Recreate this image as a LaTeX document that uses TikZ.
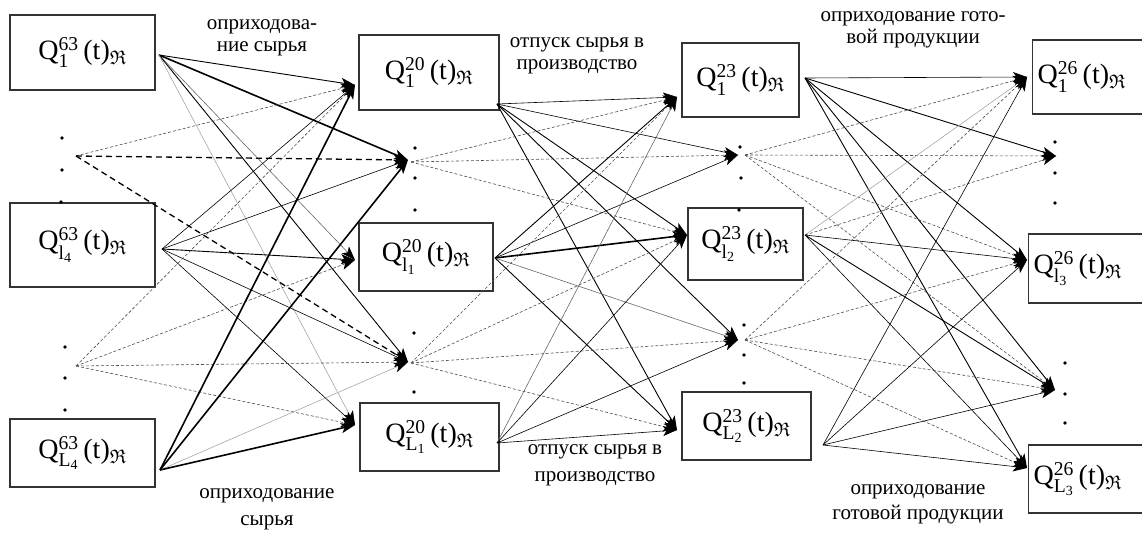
\documentclass[tikz,border=0pt]{standalone}
\usepackage{amsmath,amssymb}
\usepackage{fontspec}
\setmainfont{Liberation Serif}
\usetikzlibrary{arrows.meta}
\newcommand{\Qq}[2]{Q$^{\text{#1}}_{#2}$\,(t)$_{\mathfrak{R}}$}
\tikzset{
  box/.style={draw=black!80, line width=1.4pt, inner sep=0pt, font=\fontsize{28}{30}\selectfont},
  dbox/.style={box, anchor=west, text width=122pt, align=left, inner xsep=5pt},
  lbl/.style={align=center, inner sep=0pt, font=\fontsize{21}{22}\selectfont},
  dot/.style={circle, fill=black, inner sep=0pt, minimum size=3.6pt},
  ar/.style={-{Stealth[length=14pt,width=10pt,inset=3.5pt,black]}},
  thn/.style={ar, black, line width=0.6pt},
  nrm/.style={ar, black, line width=0.9pt},
  thk/.style={ar, black, line width=1.6pt},
  gry/.style={ar, black!60, line width=0.6pt},
  lgry/.style={ar, black!35, line width=0.6pt},
  dsh/.style={ar, black!70, line width=0.6pt, dash pattern=on 3pt off 2pt},
  hdsh/.style={ar, black, line width=1.3pt, dash pattern=on 6pt off 4pt},
}
\begin{document}
\begin{tikzpicture}[x=1pt,y=-1pt]
\useasboundingbox (0,0) rectangle (1142,534);
% boxes
\node[box, minimum width=145pt, minimum height=75pt] (a1) at (82.5,52.5) {\Qq{63}{\text{1}}};
\node[box, minimum width=145pt, minimum height=84pt] (a2) at (82.5,245) {\Qq{63}{\text{l}_{\text{4}}}};
\node[box, minimum width=145pt, minimum height=68pt] (a3) at (82.5,453) {\Qq{63}{\text{L}_{\text{4}}}};
\node[box, minimum width=140pt, minimum height=75pt] (b1) at (429,72.5) {\Qq{20}{\text{1}}};
\node[box, minimum width=134pt, minimum height=68pt] (b2) at (426,257) {\Qq{20}{\text{l}_{\text{1}}}};
\node[box, minimum width=139pt, minimum height=68pt] (b3) at (429.5,437) {\Qq{20}{\text{L}_{\text{1}}}};
\node[box, minimum width=117pt, minimum height=74pt] (c1) at (740.5,80) {\Qq{23}{\text{1}}};
\node[box, minimum width=115pt, minimum height=72pt] (c2) at (745.5,244) {\Qq{23}{\text{l}_{\text{2}}}};
\node[box, minimum width=129pt, minimum height=68pt] (c3) at (746.5,426) {\Qq{23}{\text{L}_{\text{2}}}};
\node[dbox, minimum height=74pt] (d1) at (1032,77) {\Qq{26}{\text{1}}};
\node[dbox, minimum height=69pt] (d2) at (1028,268.5) {\Qq{26}{\text{l}_{\text{3}}}};
\node[dbox, minimum height=68pt] (d3) at (1028,479) {\Qq{26}{\text{L}_{\text{3}}}};
% labels
\node[lbl] (l1) at (262,38) {оприходова-\\ние сырья};
\node[lbl] (l2) at (577,56) {отпуск сырья в\\производство};
\node[lbl, font=\fontsize{21}{27}\selectfont] (l3) at (267,509) {оприходование\\сырья};
\node[lbl, font=\fontsize{21}{27}\selectfont] (l4) at (595,465) {отпуск сырья в\\производство};
\node[lbl] (l5) at (913,30) {оприходование гото-\\вой продукции};
\node[lbl, font=\fontsize{21}{25}\selectfont] (l6) at (918,504) {оприходование\\готовой продукции};
% dots
\node[dot] (p1) at (62,138) {}; \node[dot] (p2) at (62,170) {}; \node[dot] (p3) at (61,202) {};
\node[dot] (p4) at (65,347) {}; \node[dot] (p5) at (65,378) {}; \node[dot] (p6) at (65,410) {};
\node[dot] (p7) at (415,148) {}; \node[dot] (p8) at (415,178) {}; \node[dot] (p9) at (415,210) {};
\node[dot] (p10) at (414,333) {}; \node[dot] (p11) at (414,392) {};
\node[dot] (p12) at (740,147) {}; \node[dot] (p13) at (741,178) {}; \node[dot] (p14) at (739,210) {};
\node[dot] (p15) at (744,325) {}; \node[dot] (p16) at (744,355) {}; \node[dot] (p17) at (744,383) {};
\node[dot] (p18) at (1055,142) {}; \node[dot] (p19) at (1055,173) {}; \node[dot] (p20) at (1055,203) {};
\node[dot] (p21) at (1065,363) {}; \node[dot] (p22) at (1065,394) {}; \node[dot] (p23) at (1065,423) {};
% connection points
\coordinate (s1a) at (159,55); \coordinate (h1a) at (76,156); \coordinate (s1b) at (162,249);
\coordinate (h1b) at (76,366); \coordinate (s1c) at (160,470);
\coordinate (t2a) at (355,85); \coordinate (t2h) at (408,160); \coordinate (t2b) at (355,260);
\coordinate (t2g) at (408,362); \coordinate (t2c) at (355,425);
\coordinate (s2a) at (497,104); \coordinate (h2a) at (411,162); \coordinate (s2b) at (495,258);
\coordinate (h2b) at (411,363); \coordinate (s2c) at (497,443);
\coordinate (t3a) at (677,97); \coordinate (t3h) at (738,155); \coordinate (t3b) at (687,235);
\coordinate (t3g) at (738,340); \coordinate (t3c) at (677,430);
\coordinate (s3a) at (805,78); \coordinate (h3a) at (745,155); \coordinate (s3b) at (805,235);
\coordinate (h3b) at (745,340); \coordinate (s3c) at (823,445);
\coordinate (t4a) at (1027,77); \coordinate (t4h) at (1056,156); \coordinate (t4b) at (1027,260);
\coordinate (t4g) at (1055,390); \coordinate (t4c) at (1027,468);
% stage 1
\draw[nrm] (s1a) -- (t2a); \draw[thk] (s1a) -- (t2h); \draw[gry] (s1a) -- (t2b);
\draw[nrm] (s1a) -- (t2g); \draw[lgry] (s1a) -- (t2c);
\draw[dsh] (h1a) -- (t2a); \draw[hdsh] (h1a) -- (t2h); \draw[hdsh] (h1a) -- (t2g);
\draw[thn] (s1b) -- (t2a); \draw[thn] (s1b) -- (t2h); \draw[nrm] (s1b) -- (t2b);
\draw[thn] (s1b) -- (t2g); \draw[thn] (s1b) -- (t2c);
\draw[dsh] (h1b) -- (t2a); \draw[dsh] (h1b) -- (t2b); \draw[dsh] (h1b) -- (t2g); \draw[dsh] (h1b) -- (t2c);
\draw[thk] (s1c) -- (t2a); \draw[thk] (s1c) -- (t2h); \draw[lgry] (s1c) -- (t2g); \draw[thk] (s1c) -- (t2c);
% stage 2
\draw[thn] (s2a) -- (t3a); \draw[thn] (s2a) -- (t3h); \draw[nrm] (s2a) -- (t3b);
\draw[nrm] (s2a) -- (t3g); \draw[nrm] (s2a) -- (t3c);
\draw[dsh] (h2a) -- (t3a); \draw[dsh] (h2a) -- (t3h); \draw[dsh] (h2a) -- (t3b);
\draw[nrm] (s2b) -- (t3a); \draw[thn] (s2b) -- (t3h); \draw[thk] (s2b) -- (t3b);
\draw[gry] (s2b) -- (t3g); \draw[nrm] (s2b) -- (t3c);
\draw[dsh] (h2b) -- (t3a); \draw[dsh] (h2b) -- (t3b); \draw[dsh] (h2b) -- (t3g); \draw[dsh] (h2b) -- (t3c);
\draw[gry] (s2c) -- (t3a); \draw[thn] (s2c) -- (t3b); \draw[thn] (s2c) -- (t3g); \draw[thn] (s2c) -- (t3c);
% stage 3
\draw[thn] (s3a) -- (t4a); \draw[nrm] (s3a) -- (t4h); \draw[nrm] (s3a) -- (t4b);
\draw[nrm] (s3a) -- (t4g); \draw[nrm] (s3a) -- (t4c);
\draw[dsh] (h3a) -- (t4a); \draw[dsh] (h3a) -- (t4h); \draw[dsh] (h3a) -- (t4b); \draw[dsh] (h3a) -- (t4g);
\draw[lgry] (s3b) -- (t4a); \draw[dsh] (s3b) -- (t4h); \draw[thn] (s3b) -- (t4b);
\draw[nrm] (s3b) -- (t4g); \draw[thn] (s3b) -- (t4c);
\draw[dsh] (h3b) -- (t4a); \draw[dsh] (h3b) -- (t4b); \draw[dsh] (h3b) -- (t4g); \draw[dsh] (h3b) -- (t4c);
\draw[thn] (s3c) -- (t4a); \draw[thn] (s3c) -- (t4b); \draw[thn] (s3c) -- (t4g); \draw[thn] (s3c) -- (t4c);
\end{tikzpicture}
\end{document}
